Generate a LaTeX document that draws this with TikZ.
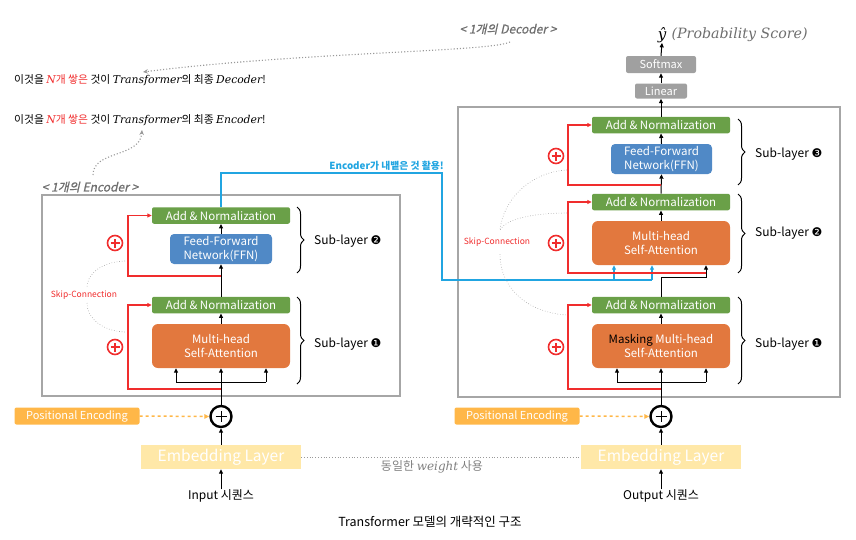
\documentclass[tikz,border=0pt]{standalone}
\usepackage{fontspec}
\setmainfont{Noto Sans CJK KR}
\newfontfamily\dejavu{DejaVu Sans}
\newfontfamily\dvserif{DejaVu Serif}
\newfontfamily\slkr[FakeSlant=0.22,FakeBold=1]{Noto Sans CJK KR}
\newcommand{\mi}[1]{{\dvserif\itshape #1}}
\usetikzlibrary{arrows.meta,decorations.pathreplacing,calc}
\definecolor{cgreen}{RGB}{106,160,72}
\definecolor{cblue}{RGB}{80,137,198}
\definecolor{corange}{RGB}{226,120,62}
\definecolor{cgraybox}{RGB}{166,166,166}
\definecolor{cgrayblk}{RGB}{160,160,160}
\definecolor{cred}{RGB}{240,45,45}
\definecolor{ccyan}{RGB}{33,165,225}
\definecolor{cpe}{RGB}{255,183,72}
\definecolor{cemb}{RGB}{255,232,168}
\definecolor{ctxtgray}{RGB}{110,110,110}
\begin{document}
\begin{tikzpicture}[x=1pt,y=-1pt,
  blk/.style={draw=none,text=white,inner sep=0pt,align=center,font=\fontsize{11.5}{14}\selectfont},
  an/.style={blk,fill=cgreen,minimum width=138pt,minimum height=16.5pt,rounded corners=2pt},
  ffn/.style={blk,fill=cblue,minimum width=102pt,minimum height=30pt,rounded corners=4pt},
  mha/.style={blk,fill=corange,minimum width=138pt,minimum height=44pt,rounded corners=6pt},
  grayblk/.style={blk,fill=cgrayblk,rounded corners=2pt,font=\fontsize{11}{12}\selectfont},
  pe/.style={blk,fill=cpe,minimum width=125pt,minimum height=17pt,rounded corners=2pt,font=\fontsize{11}{12}\selectfont},
  emb/.style={blk,fill=cemb,minimum width=160pt,minimum height=24pt,font=\fontsize{15.5}{17}\selectfont},
  frame/.style={draw=cgraybox,line width=2.6pt},
  arr/.style={draw=black,line width=1pt,-{Triangle[length=4.5pt,width=4pt]}},
  ln/.style={draw=black,line width=1pt},
  redarr/.style={draw=cred,line width=1.1pt,-{Triangle[length=4.5pt,width=4pt]}},
  cyanln/.style={draw=ccyan,line width=1.1pt},
  cyanarr/.style={draw=ccyan,line width=1.1pt,-{Triangle[length=4.5pt,width=4pt]}},
  rplus/.style={circle,draw=cred,line width=1.6pt,minimum size=15pt,inner sep=0pt,
    path picture={\draw[cred,line width=1.3pt]
      ($(path picture bounding box.center)+(-4.5pt,0)$) -- ($(path picture bounding box.center)+(4.5pt,0)$)
      ($(path picture bounding box.center)+(0,-4.5pt)$) -- ($(path picture bounding box.center)+(0,4.5pt)$);}},
  bplus/.style={circle,draw=black,line width=2.4pt,minimum size=21pt,inner sep=0pt,fill=white,
    path picture={\draw[black,line width=1pt]
      ($(path picture bounding box.center)+(-5.5pt,0)$) -- ($(path picture bounding box.center)+(5.5pt,0)$)
      ($(path picture bounding box.center)+(0,-5.5pt)$) -- ($(path picture bounding box.center)+(0,5.5pt)$);}},
  brc/.style={draw=black,line width=1pt,decorate,decoration={brace,amplitude=7pt}},
  sublbl/.style={anchor=west,inner sep=0pt,font=\fontsize{12}{14}\selectfont},
  skiplbl/.style={text=cred,inner sep=0pt,font=\fontsize{8.5}{10}\selectfont},
  dotc/.style={draw=gray!75,dotted,line width=0.6pt},
  dotarr/.style={draw=gray!80,dotted,line width=1.1pt,-{Stealth[length=5pt,width=4.5pt]}},
  plain/.style={inner sep=0pt,font=\fontsize{12}{14}\selectfont}
]
\useasboundingbox (0,0) rectangle (856,539);

% ---------- frames ----------
\draw[frame] (42,195) rectangle (400,396);
\draw[frame] (458,107) rectangle (840,397);

% ---------- encoder nodes ----------
\node[an]  (eAN2) at (221,215.5) {Add \& Normalization};
\node[ffn] (eFFN) at (221,249) {Feed-Forward\\Network(FFN)};
\node[an]  (eAN1) at (221,305) {Add \& Normalization};
\node[mha] (eMHA) at (221,346) {Multi-head\\Self-Attention};
\node[bplus] (ePlus) at (221,416.5) {};
\node[pe]  (ePE) at (77,416) {Positional Encoding};
\node[emb] (eEmb) at (221,457) {Embedding Layer};
\node[plain] (eIn) at (221,496) {Input 시퀀스};

% ---------- decoder nodes ----------
\node[an]  (dAN3) at (661,125) {Add \& Normalization};
\node[ffn,minimum width=101pt] (dFFN) at (661.5,159) {Feed-Forward\\Network(FFN)};
\node[an]  (dAN2) at (661,202) {Add \& Normalization};
\node[mha] (dMHA2) at (661,243) {Multi-head\\Self-Attention};
\node[an]  (dAN1) at (661,305) {Add \& Normalization};
\node[mha] (dMHA1) at (661,346) {\textcolor{black}{Masking} Multi-head\\Self-Attention};
\node[bplus] (dPlus) at (661,416.5) {};
\node[pe]  (dPE) at (517,416) {Positional Encoding};
\node[emb] (dEmb) at (661,457) {Embedding Layer};
\node[plain] (dOut) at (661,496) {Output 시퀀스};
\node[grayblk,minimum width=52pt,minimum height=15pt] (dLin) at (661,91) {Linear};
\node[grayblk,minimum width=70pt,minimum height=17pt] (dSoft) at (661,64.5) {Softmax};
\node[inner sep=0pt,font=\fontsize{15}{17}\selectfont] (yhat) at (662,35) {\mi{ŷ}};
\node[anchor=west,inner sep=0pt,text=ctxtgray,font=\fontsize{14.2}{17}\selectfont] (prob) at ([xshift=5pt]yhat.east) {\mi{(Probability Score)}};

% ---------- encoder connectors ----------
\draw[arr] (eIn.north) -- (eEmb.south);
\draw[arr] (eEmb.north) -- (ePlus.south);
\draw[draw=cpe,line width=1.5pt,dashed,-{Triangle[length=5pt,width=4.5pt]}] (ePE.east) -- (ePlus.west);
\draw[arr] (ePlus.north) -- (eMHA.south);
\coordinate (eL) at (176,382);
\coordinate (eR) at (266,382);
\draw[ln] (eL) -- (eR);
\draw[arr] (eL) -- (eL |- eMHA.south);
\draw[arr] (eR) -- (eR |- eMHA.south);
\draw[arr] (eMHA.north) -- (eAN1.south);
\draw[arr] (eAN1.north) -- (eFFN.south);
\draw[arr] (eFFN.north) -- (eAN2.south);
\coordinate (eS1) at (221,389);
\coordinate (eS2) at (221,276);
\draw[redarr] (eS1) -- ++(-93,0) |- (eAN1.west);
\draw[redarr] (eS2) -- ++(-93,0) |- (eAN2.west);
\node[rplus] (eP1) at (115,347) {};
\node[rplus] (eP2) at (115,243) {};
\node[skiplbl] (eSkip) at (84,295) {Skip-Connection};
\draw[dotc] (125,261) .. controls (100,262) and (87,275) .. (87,287);
\draw[dotc] (87,303) .. controls (87,318) and (102,331) .. (125,332);
\draw[brc] (297,207) -- (297,273);
\draw[brc] (297,297) -- (297,384);
\node[sublbl] (eSub2) at (314,241) {Sub-layer {\dejavu ❷}};
\node[sublbl] (eSub1) at (314,344) {Sub-layer {\dejavu ❶}};

% ---------- encoder -> decoder (cyan) ----------
\coordinate (bT) at (442,173);
\coordinate (bB) at (442,280);
\coordinate (bM) at (614,280);
\coordinate (bR) at (652,280);
\draw[cyanln] (eAN2.north) |- (bT) -- (bB) -- (bR);
\draw[cyanarr] (bM) -- (bM |- dMHA2.south);
\draw[cyanarr] (bR) -- (bR |- dMHA2.south);
\node[anchor=base east,inner sep=0pt,text=ccyan,font=\bfseries\fontsize{9.8}{11}\selectfont] (cyLbl) at (444,169) {Encoder가 내뱉은 것 활용!};

% ---------- decoder connectors ----------
\draw[arr] (dOut.north) -- (dEmb.south);
\draw[arr] (dEmb.north) -- (dPlus.south);
\draw[draw=cpe,line width=1.5pt,dashed,-{Triangle[length=5pt,width=4.5pt]}] (dPE.east) -- (dPlus.west);
\draw[arr] (dPlus.north) -- (dMHA1.south);
\coordinate (dL) at (617,382);
\coordinate (dR) at (706,382);
\draw[ln] (dL) -- (dR);
\draw[arr] (dL) -- (dL |- dMHA1.south);
\draw[arr] (dR) -- (dR |- dMHA1.south);
\draw[arr] (dMHA1.north) -- (dAN1.south);
\coordinate (dK) at (661,277);
\coordinate (dK2) at (706,277);
\draw[arr] (dAN1.north) -- (dK) -- (dK2) -- (dK2 |- dMHA2.south);
\draw[arr] (dMHA2.north) -- (dAN2.south);
\draw[arr] (dAN2.north) -- (dFFN.south);
\draw[arr] (dFFN.north) -- (dAN3.south);
\draw[arr] (dAN3.north) -- (dLin.south);
\draw[arr] (dLin.north) -- (dSoft.south);
\draw[arr] (dSoft.north) -- (yhat.south);
\coordinate (dS1) at (661,389);
\coordinate (dS2) at (706,273);
\coordinate (dS3) at (661,185);
\draw[redarr] (dS1) -- ++(-93,0) |- (dAN1.west);
\draw[redarr] (dS2) -- ++(-138,0) |- (dAN2.west);
\draw[redarr] (dS3) -- ++(-93,0) |- (dAN3.west);
\node[rplus] (dP1) at (556,347) {};
\node[rplus] (dP2) at (556,243) {};
\node[rplus] (dP3) at (556,156) {};
\node[skiplbl] (dSkip) at (497,242) {Skip-Connection};
\draw[dotc] (567,170) .. controls (530,172) and (503,200) .. (500,230);
\draw[dotc] (567,213) .. controls (530,213) and (505,220) .. (500,230);
\draw[dotc] (500,254) .. controls (500,290) and (530,313) .. (567,315);
\draw[brc] (738,119) -- (738,185);
\draw[brc] (738,194) -- (738,273);
\draw[brc] (738,297) -- (738,384);
\node[sublbl] (dSub3) at (755,154) {Sub-layer {\dejavu ❸}};
\node[sublbl] (dSub2) at (755,233) {Sub-layer {\dejavu ❷}};
\node[sublbl] (dSub1) at (755,344) {Sub-layer {\dejavu ❶}};

% ---------- shared embedding ----------
\draw[draw=gray!80,dotted,line width=0.8pt] (eEmb.east) -- (dEmb.west);
\node[plain,text=gray,font=\fontsize{12}{14}\selectfont] (wLbl) at (432,467) {동일한 \mi{weight} 사용};

% ---------- annotations ----------
\node[anchor=west,inner sep=0pt,font=\fontsize{10.8}{12}\selectfont] (tDec) at (14,80)
  {이것을 \textcolor{cred}{\mi{N}개 쌓은} 것이 \mi{Transformer}의 최종 \mi{Decoder}!};
\node[anchor=west,inner sep=0pt,font=\fontsize{10.8}{12}\selectfont] (tEnc) at (14,120)
  {이것을 \textcolor{cred}{\mi{N}개 쌓은} 것이 \mi{Transformer}의 최종 \mi{Encoder}!};
\node[inner sep=0pt,text=ctxtgray,font=\slkr\fontsize{12}{14}\selectfont] (decLbl) at (508,29) {< 1개의 Decoder >};
\node[inner sep=0pt,text=ctxtgray,font=\slkr\fontsize{12}{14}\selectfont] (encLbl) at (90,187) {< 1개의 Encoder >};
\coordinate (aDs) at (510,42);
\coordinate (aDe) at (143,72);
\coordinate (aEs) at (93,175);
\coordinate (aEe) at (142,130);
\draw[dotarr] (aDs) .. controls (490,52) and (300,52) .. (aDe);
\draw[dotarr] (aEs) .. controls (93,150) and (140,158) .. (aEe);

% ---------- caption ----------
\node[plain,font=\fontsize{12.5}{14}\selectfont] (cap) at (430,522) {Transformer 모델의 개략적인 구조};
\end{tikzpicture}
\end{document}
